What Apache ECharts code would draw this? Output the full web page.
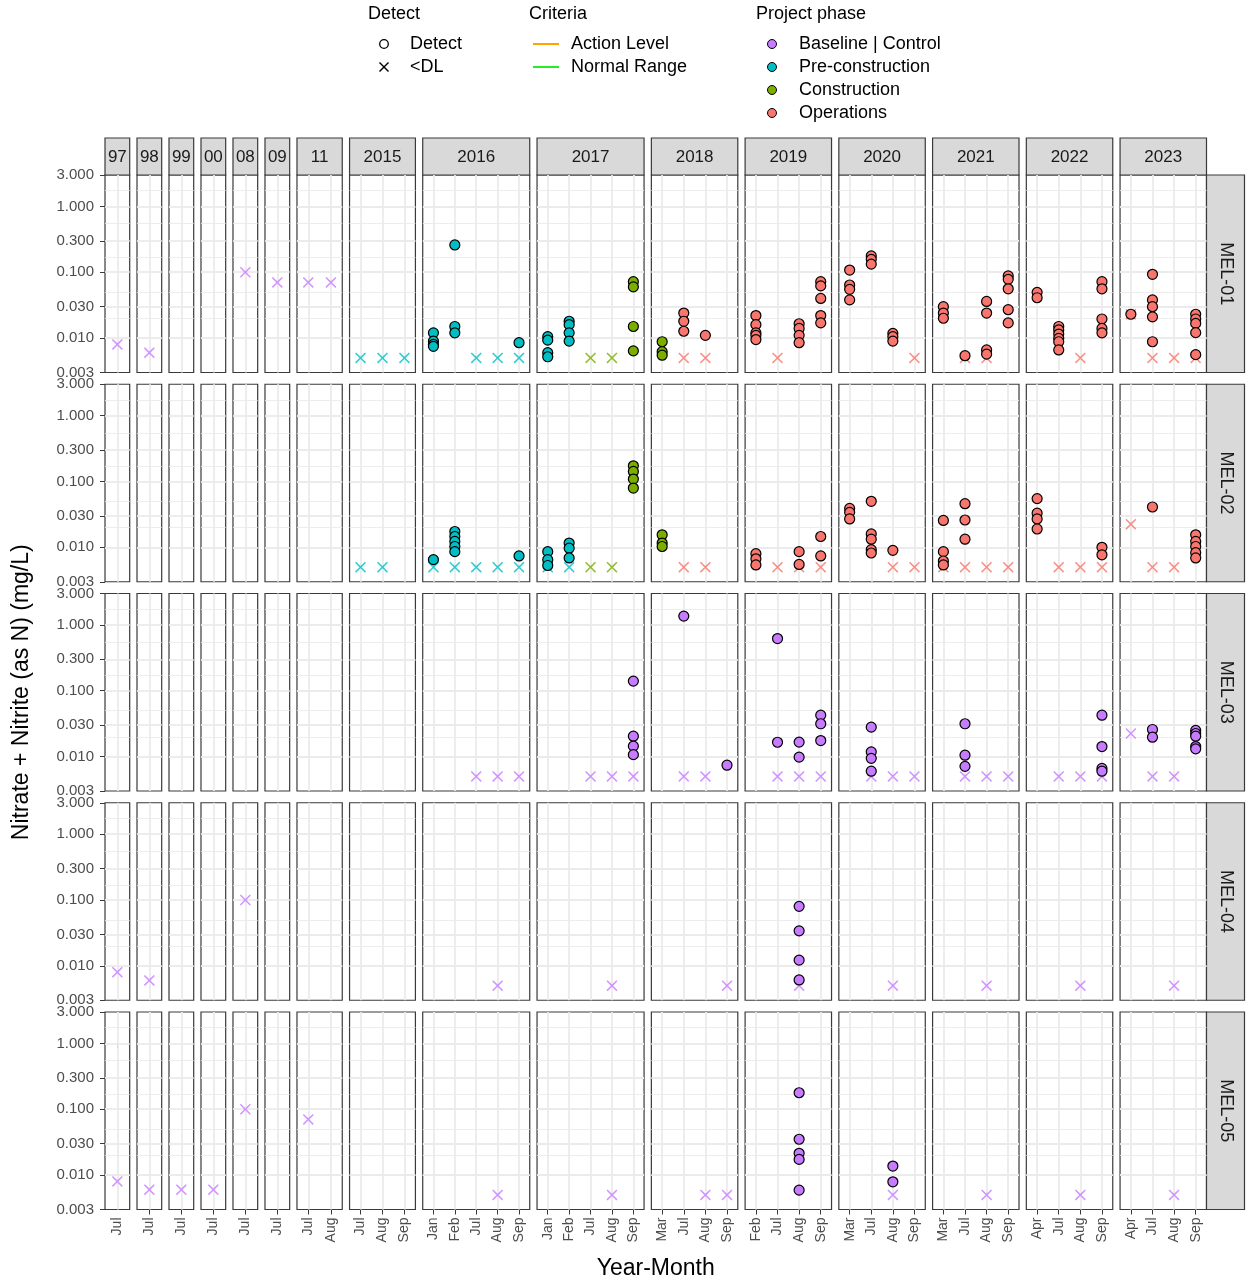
<!DOCTYPE html>
<html>
<head>
<meta charset="utf-8">
<script src="https://cdn.jsdelivr.net/npm/echarts@6/dist/echarts.min.js"></script>
<style>
  html, body { margin: 0; padding: 0; background: #ffffff; }
  #chart { width: 1248px; height: 1285px; }
</style>
</head>
<body>
<div id="chart"></div>
<script>
// ---- Data ---------------------------------------------------------------
const siteNames = ['MEL-01', 'MEL-02', 'MEL-03', 'MEL-04', 'MEL-05'];
const yearLabels = ['97', '98', '99', '00', '08', '09', '11', '2015', '2016', '2017', '2018', '2019', '2020', '2021', '2022', '2023'];
const yearMonths = [
  ['Jul'], ['Jul'], ['Jul'], ['Jul'], ['Jul'], ['Jul'], ['Jul', 'Aug'], ['Jul', 'Aug', 'Sep'],
  ['Jan', 'Feb', 'Jul', 'Aug', 'Sep'], ['Jan', 'Feb', 'Jul', 'Aug', 'Sep'],
  ['Mar', 'Jul', 'Aug', 'Sep'], ['Feb', 'Jul', 'Aug', 'Sep'], ['Mar', 'Jul', 'Aug', 'Sep'],
  ['Mar', 'Jul', 'Aug', 'Sep'], ['Apr', 'Jul', 'Aug', 'Sep'], ['Apr', 'Jul', 'Aug', 'Sep']
];
const yTickValues = [0.003, 0.01, 0.03, 0.1, 0.3, 1, 3];
const phaseNames = ['Baseline | Control', 'Pre-construction', 'Construction', 'Operations'];
const phaseCodes = ['B', 'P', 'C', 'O'];
const detectNames = ['Detect', '<DL'];
const criteriaNames = ['Action Level', 'Normal Range'];

// Samples: [year, month, phase, detect flag, value, value, ...]
const mel01 = [
  ['97', 'Jul', 'B', '<DL', 0.008],
  ['98', 'Jul', 'B', '<DL', 0.006],
  ['08', 'Jul', 'B', '<DL', 0.1],
  ['09', 'Jul', 'B', '<DL', 0.07],
  ['11', 'Jul', 'B', '<DL', 0.07],
  ['11', 'Aug', 'B', '<DL', 0.07],
  ['2015', 'Jul', 'P', '<DL', 0.005],
  ['2015', 'Aug', 'P', '<DL', 0.005],
  ['2015', 'Sep', 'P', '<DL', 0.005],
  ['2016', 'Jan', 'P', 'D', 0.012, 0.009, 0.008, 0.0075],
  ['2016', 'Feb', 'P', 'D', 0.26, 0.015, 0.012],
  ['2016', 'Jul', 'P', '<DL', 0.005],
  ['2016', 'Aug', 'P', '<DL', 0.005],
  ['2016', 'Sep', 'P', '<DL', 0.005],
  ['2016', 'Sep', 'P', 'D', 0.0085],
  ['2017', 'Jan', 'P', 'D', 0.0105, 0.0093, 0.006, 0.0052],
  ['2017', 'Feb', 'P', 'D', 0.018, 0.016, 0.012, 0.009],
  ['2017', 'Jul', 'C', '<DL', 0.005],
  ['2017', 'Aug', 'C', '<DL', 0.005],
  ['2017', 'Sep', 'C', 'D', 0.072, 0.06, 0.015, 0.0064],
  ['2018', 'Mar', 'C', 'D', 0.0088, 0.0062, 0.0055],
  ['2018', 'Jul', 'O', '<DL', 0.005],
  ['2018', 'Jul', 'O', 'D', 0.024, 0.018, 0.0127],
  ['2018', 'Aug', 'O', '<DL', 0.005],
  ['2018', 'Aug', 'O', 'D', 0.011],
  ['2019', 'Feb', 'O', 'D', 0.022, 0.016, 0.012, 0.011, 0.0095],
  ['2019', 'Jul', 'O', '<DL', 0.005],
  ['2019', 'Aug', 'O', 'D', 0.0165, 0.014, 0.011, 0.0085],
  ['2019', 'Sep', 'O', 'D', 0.072, 0.062, 0.04, 0.022, 0.017],
  ['2020', 'Mar', 'O', 'D', 0.108, 0.064, 0.055, 0.038],
  ['2020', 'Jul', 'O', 'D', 0.177, 0.157, 0.133],
  ['2020', 'Aug', 'O', 'D', 0.0118, 0.0105, 0.009],
  ['2020', 'Sep', 'O', '<DL', 0.005],
  ['2021', 'Mar', 'O', 'D', 0.03, 0.024, 0.02],
  ['2021', 'Jul', 'O', '<DL', 0.005],
  ['2021', 'Jul', 'O', 'D', 0.0054],
  ['2021', 'Aug', 'O', '<DL', 0.005],
  ['2021', 'Aug', 'O', 'D', 0.036, 0.024, 0.0066, 0.0057],
  ['2021', 'Sep', 'O', 'D', 0.088, 0.078, 0.056, 0.027, 0.017],
  ['2022', 'Apr', 'O', 'D', 0.0495, 0.041],
  ['2022', 'Jul', 'O', 'D', 0.015, 0.0133, 0.0115, 0.0099, 0.0088, 0.0066],
  ['2022', 'Aug', 'O', '<DL', 0.005],
  ['2022', 'Sep', 'O', 'D', 0.072, 0.056, 0.0195, 0.014, 0.012],
  ['2023', 'Apr', 'O', '<DL', 0.023],
  ['2023', 'Apr', 'O', 'D', 0.023],
  ['2023', 'Jul', 'O', '<DL', 0.005],
  ['2023', 'Jul', 'O', 'D', 0.093, 0.038, 0.03, 0.021, 0.0088],
  ['2023', 'Aug', 'O', '<DL', 0.005],
  ['2023', 'Sep', 'O', '<DL', 0.005],
  ['2023', 'Sep', 'O', 'D', 0.023, 0.0195, 0.0167, 0.0121, 0.0056]
];

const mel02 = [
  ['2015', 'Jul', 'P', '<DL', 0.005],
  ['2015', 'Aug', 'P', '<DL', 0.005],
  ['2016', 'Jan', 'P', '<DL', 0.005],
  ['2016', 'Jan', 'P', 'D', 0.0065],
  ['2016', 'Feb', 'P', '<DL', 0.005],
  ['2016', 'Feb', 'P', 'D', 0.0174, 0.0146, 0.0123, 0.0103, 0.0086],
  ['2016', 'Jul', 'P', '<DL', 0.005],
  ['2016', 'Aug', 'P', '<DL', 0.005],
  ['2016', 'Sep', 'P', '<DL', 0.005],
  ['2016', 'Sep', 'P', 'D', 0.0074],
  ['2017', 'Jan', 'P', '<DL', 0.005],
  ['2017', 'Jan', 'P', 'D', 0.0086, 0.0065, 0.0053],
  ['2017', 'Feb', 'P', '<DL', 0.005],
  ['2017', 'Feb', 'P', 'D', 0.0116, 0.0097, 0.0069],
  ['2017', 'Jul', 'C', '<DL', 0.005],
  ['2017', 'Aug', 'C', '<DL', 0.005],
  ['2017', 'Sep', 'C', 'D', 0.173, 0.142, 0.109, 0.0795],
  ['2018', 'Mar', 'C', 'D', 0.0155, 0.0116, 0.0103],
  ['2018', 'Jul', 'O', '<DL', 0.005],
  ['2018', 'Aug', 'O', '<DL', 0.005],
  ['2019', 'Feb', 'O', 'D', 0.008, 0.0067, 0.0054],
  ['2019', 'Jul', 'O', '<DL', 0.005],
  ['2019', 'Aug', 'O', '<DL', 0.005],
  ['2019', 'Aug', 'O', 'D', 0.0086, 0.0055],
  ['2019', 'Sep', 'O', '<DL', 0.005],
  ['2019', 'Sep', 'O', 'D', 0.0146, 0.0074],
  ['2020', 'Mar', 'O', 'D', 0.039, 0.034, 0.027],
  ['2020', 'Jul', 'O', 'D', 0.05, 0.016, 0.0133, 0.0092, 0.0082],
  ['2020', 'Aug', 'O', '<DL', 0.005],
  ['2020', 'Aug', 'O', 'D', 0.009],
  ['2020', 'Sep', 'O', '<DL', 0.005],
  ['2021', 'Mar', 'O', '<DL', 0.005],
  ['2021', 'Mar', 'O', 'D', 0.0256, 0.0086, 0.0062, 0.0054],
  ['2021', 'Jul', 'O', '<DL', 0.005],
  ['2021', 'Jul', 'O', 'D', 0.046, 0.026, 0.0133],
  ['2021', 'Aug', 'O', '<DL', 0.005],
  ['2021', 'Sep', 'O', '<DL', 0.005],
  ['2022', 'Apr', 'O', 'D', 0.055, 0.033, 0.027, 0.019],
  ['2022', 'Jul', 'O', '<DL', 0.005],
  ['2022', 'Aug', 'O', '<DL', 0.005],
  ['2022', 'Sep', 'O', '<DL', 0.005],
  ['2022', 'Sep', 'O', 'D', 0.01, 0.0077],
  ['2023', 'Apr', 'O', '<DL', 0.0225],
  ['2023', 'Jul', 'O', '<DL', 0.005],
  ['2023', 'Jul', 'O', 'D', 0.041],
  ['2023', 'Aug', 'O', '<DL', 0.005],
  ['2023', 'Sep', 'O', 'D', 0.0155, 0.0123, 0.0103, 0.0083, 0.0069]
];

const mel03 = [
  ['2016', 'Jul', 'B', '<DL', 0.005],
  ['2016', 'Aug', 'B', '<DL', 0.005],
  ['2016', 'Sep', 'B', '<DL', 0.005],
  ['2017', 'Jul', 'B', '<DL', 0.005],
  ['2017', 'Aug', 'B', '<DL', 0.005],
  ['2017', 'Sep', 'B', '<DL', 0.005],
  ['2017', 'Sep', 'B', 'D', 0.14, 0.0204, 0.0144, 0.0107],
  ['2018', 'Jul', 'B', '<DL', 0.005],
  ['2018', 'Jul', 'B', 'D', 1.36],
  ['2018', 'Aug', 'B', '<DL', 0.005],
  ['2018', 'Sep', 'B', 'D', 0.0074],
  ['2019', 'Jul', 'B', '<DL', 0.005],
  ['2019', 'Jul', 'B', 'D', 0.62, 0.0165],
  ['2019', 'Aug', 'B', '<DL', 0.005],
  ['2019', 'Aug', 'B', 'D', 0.0166, 0.0098],
  ['2019', 'Sep', 'B', '<DL', 0.005],
  ['2019', 'Sep', 'B', 'D', 0.0425, 0.0315, 0.0175],
  ['2020', 'Jul', 'B', '<DL', 0.005],
  ['2020', 'Jul', 'B', 'D', 0.028, 0.0118, 0.0094, 0.006],
  ['2020', 'Aug', 'B', '<DL', 0.005],
  ['2020', 'Sep', 'B', '<DL', 0.005],
  ['2021', 'Jul', 'B', '<DL', 0.005],
  ['2021', 'Jul', 'B', 'D', 0.0315, 0.0105, 0.0071],
  ['2021', 'Aug', 'B', '<DL', 0.005],
  ['2021', 'Sep', 'B', '<DL', 0.005],
  ['2022', 'Jul', 'B', '<DL', 0.005],
  ['2022', 'Aug', 'B', '<DL', 0.005],
  ['2022', 'Sep', 'B', '<DL', 0.005],
  ['2022', 'Sep', 'B', 'D', 0.0425, 0.0142, 0.0066, 0.006],
  ['2023', 'Apr', 'B', '<DL', 0.0224],
  ['2023', 'Jul', 'B', '<DL', 0.005],
  ['2023', 'Jul', 'B', 'D', 0.0258, 0.0197],
  ['2023', 'Aug', 'B', '<DL', 0.005],
  ['2023', 'Sep', 'B', 'D', 0.025, 0.0224, 0.0204, 0.0142, 0.0131]
];

const mel04 = [
  ['97', 'Jul', 'B', '<DL', 0.008],
  ['98', 'Jul', 'B', '<DL', 0.006],
  ['08', 'Jul', 'B', '<DL', 0.1],
  ['2016', 'Aug', 'B', '<DL', 0.005],
  ['2017', 'Aug', 'B', '<DL', 0.005],
  ['2018', 'Sep', 'B', '<DL', 0.005],
  ['2019', 'Aug', 'B', '<DL', 0.005],
  ['2019', 'Aug', 'B', 'D', 0.08, 0.034, 0.0122, 0.0061],
  ['2020', 'Aug', 'B', '<DL', 0.005],
  ['2021', 'Aug', 'B', '<DL', 0.005],
  ['2022', 'Aug', 'B', '<DL', 0.005],
  ['2023', 'Aug', 'B', '<DL', 0.005]
];

const mel05 = [
  ['97', 'Jul', 'B', '<DL', 0.008],
  ['98', 'Jul', 'B', '<DL', 0.006],
  ['99', 'Jul', 'B', '<DL', 0.006],
  ['00', 'Jul', 'B', '<DL', 0.006],
  ['08', 'Jul', 'B', '<DL', 0.1],
  ['11', 'Jul', 'B', '<DL', 0.07],
  ['2016', 'Aug', 'B', '<DL', 0.005],
  ['2017', 'Aug', 'B', '<DL', 0.005],
  ['2018', 'Aug', 'B', '<DL', 0.005],
  ['2018', 'Sep', 'B', '<DL', 0.005],
  ['2019', 'Aug', 'B', 'D', 0.178, 0.035, 0.0214, 0.0173, 0.0059],
  ['2020', 'Aug', 'B', '<DL', 0.005],
  ['2020', 'Aug', 'B', 'D', 0.0137, 0.0079],
  ['2021', 'Aug', 'B', '<DL', 0.005],
  ['2022', 'Aug', 'B', '<DL', 0.005],
  ['2023', 'Aug', 'B', '<DL', 0.005]
];

const siteSamples = [mel01, mel02, mel03, mel04, mel05];

// ---- Styling -------------------------------------------------------------
const FONT = '"Liberation Sans", Arial, Helvetica, sans-serif';
const phaseColors = { B: '#C77CFF', P: '#00BFC4', C: '#7CAE00', O: '#F8766D' };
const criteriaColors = ['#FFA500', '#22EE22'];
const gridColor = '#EBEBEB';
const frameColor = '#3A3A3A';
const crossPath = 'path://M2,0L10,8L18,0L20,2L12,10L20,18L18,20L10,12L2,20L0,18L8,10L0,2Z';

// ---- Facet layout ---------------------------------------------------------
const plotLeft = 105, plotRight = 1206.5, colGap = 7.3;
const rowTop0 = 175, rowStep = 209.25, rowHeight = 197.5;
const stripTop = 138, stripRightWidth = 38;
const totalUnits = yearMonths.reduce((s, m) => s + m.length + 0.2, 0);
const unit = (plotRight - plotLeft - colGap * (yearLabels.length - 1)) / totalUnits;
const colLeft = [], colWidth = [];
{
  let x = plotLeft;
  yearMonths.forEach(m => {
    const w = (m.length + 0.2) * unit;
    colLeft.push(x); colWidth.push(w);
    x += w + colGap;
  });
}

// Minor grid values sit halfway between major breaks on the log scale
const minorValues = [];
for (let i = 0; i < yTickValues.length - 1; i++) {
  minorValues.push(Math.sqrt(yTickValues[i] * yTickValues[i + 1]));
}

const grids = [], xAxes = [], yAxes = [], series = [];

siteNames.forEach((site, r) => {
  const samples = siteSamples[r];
  yearLabels.forEach((yr, c) => {
    const g = grids.length;
    const months = yearMonths[c];
    const isBottom = r === siteNames.length - 1;
    grids.push({
      left: colLeft[c], top: rowTop0 + r * rowStep,
      width: colWidth[c], height: rowHeight,
      show: true, backgroundColor: '#ffffff',
      borderColor: frameColor, borderWidth: 1.2
    });
    xAxes.push({
      type: 'category', gridIndex: g, data: months, boundaryGap: true,
      axisLine: { show: false },
      splitLine: { show: false },
      axisTick: { show: isBottom, alignWithLabel: true, length: 5, lineStyle: { color: frameColor, width: 1 } },
      axisLabel: {
        show: isBottom, interval: 0, rotate: 90, margin: 8,
        fontSize: 14, color: '#4D4D4D', fontFamily: FONT
      }
    });
    const yLog = yAxes.length;
    yAxes.push({
      type: 'log', logBase: 10, gridIndex: g, min: 0.003, max: 3, show: false, position: 'left'
    });
    if (c === 0) {
      // Tick labels for the facet row, placed on a log10 value axis
      const logTicks = yTickValues.map(v => Math.log10(v));
      yAxes.push({
        type: 'value', gridIndex: g, position: 'left', offset: 0,
        min: Math.log10(yTickValues[0]), max: Math.log10(yTickValues[yTickValues.length - 1]),
        axisLine: { show: false },
        splitLine: { show: false },
        axisTick: { show: true, inside: false, customValues: logTicks, length: 5, lineStyle: { color: frameColor, width: 1 } },
        axisLabel: {
          show: true, inside: false, customValues: logTicks, margin: 11,
          fontSize: 15, color: '#4D4D4D', fontFamily: FONT,
          formatter: v => Math.pow(10, v).toFixed(3)
        }
      });
    }

    // panel grid lines
    const lines = [];
    months.forEach(m => lines.push({ xAxis: m, lineStyle: { color: gridColor, width: 1.8, type: 'solid' } }));
    yTickValues.slice(1, -1).forEach(v => lines.push({ yAxis: v, lineStyle: { color: gridColor, width: 1.8, type: 'solid' } }));
    minorValues.forEach(v => lines.push({ yAxis: v, lineStyle: { color: gridColor, width: 0.9, type: 'solid' } }));
    series.push({
      type: 'scatter', xAxisIndex: g, yAxisIndex: yLog, data: [], silent: true, z: 1,
      markLine: {
        z: 1, silent: true, symbol: ['none', 'none'], label: { show: false },
        emphasis: { disabled: true }, animation: false, data: lines
      }
    });

    const below = [], detected = [];
    samples.filter(s => s[0] === yr).forEach(s => {
      const [, month, phase, flag, ...values] = s;
      values.forEach(v => {
        const item = { value: [month, v], itemStyle: { color: phaseColors[phase] } };
        (flag === 'D' ? detected : below).push(item);
      });
    });
    series.push({
      type: 'scatter', xAxisIndex: g, yAxisIndex: yLog, z: 10,
      symbol: crossPath, symbolSize: 11, silent: true,
      data: below
    });
    series.push({
      type: 'scatter', xAxisIndex: g, yAxisIndex: yLog, z: 11,
      symbol: 'circle', symbolSize: 10, silent: true,
      itemStyle: { borderColor: '#000000', borderWidth: 1.2, opacity: 1 },
      data: detected
    });
  });
});

// ---- Strips, titles and legend --------------------------------------------
const graphics = [];
yearLabels.forEach((yr, c) => {
  graphics.push({
    type: 'rect', silent: true,
    shape: { x: colLeft[c], y: stripTop, width: colWidth[c], height: rowTop0 - stripTop },
    style: { fill: '#D9D9D9', stroke: frameColor, lineWidth: 1.2 }
  });
  graphics.push({
    type: 'text', silent: true,
    x: colLeft[c] + colWidth[c] / 2, y: (stripTop + rowTop0) / 2 + 1,
    style: { text: yr, font: '17px ' + FONT, fill: '#1A1A1A', align: 'center', verticalAlign: 'middle' }
  });
});
siteNames.forEach((site, r) => {
  const top = rowTop0 + r * rowStep;
  graphics.push({
    type: 'rect', silent: true,
    shape: { x: plotRight, y: top, width: stripRightWidth, height: rowHeight },
    style: { fill: '#D9D9D9', stroke: frameColor, lineWidth: 1.2 }
  });
  graphics.push({
    type: 'text', silent: true,
    x: plotRight + stripRightWidth / 2, y: top + rowHeight / 2, rotation: -Math.PI / 2,
    style: { text: site, font: '18px ' + FONT, fill: '#1A1A1A', align: 'center', verticalAlign: 'middle' }
  });
});

// axis titles
graphics.push({
  type: 'text', silent: true, x: 22, y: rowTop0 + (4 * rowStep + rowHeight) / 2, rotation: Math.PI / 2,
  style: { text: 'Nitrate + Nitrite (as N) (mg/L)', font: '23px ' + FONT, fill: '#000000', align: 'center', verticalAlign: 'middle' }
});
graphics.push({
  type: 'text', silent: true, x: (plotLeft + plotRight) / 2, y: 1269,
  style: { text: 'Year-Month', font: '23px ' + FONT, fill: '#000000', align: 'center', verticalAlign: 'middle' }
});

// legend
const legendFont = '18px ' + FONT;
const legendRowY = [44, 67, 90, 113];
function legendTitle(text, x) {
  graphics.push({ type: 'text', silent: true, x: x, y: 14,
    style: { text: text, font: legendFont, fill: '#000000', align: 'left', verticalAlign: 'middle' } });
}
function legendLabel(text, x, y) {
  graphics.push({ type: 'text', silent: true, x: x, y: y,
    style: { text: text, font: legendFont, fill: '#000000', align: 'left', verticalAlign: 'middle' } });
}
legendTitle('Detect', 368);
graphics.push({ type: 'circle', silent: true, shape: { cx: 384, cy: legendRowY[0], r: 4.3 },
  style: { fill: 'none', stroke: '#000000', lineWidth: 1.3 } });
graphics.push({ type: 'polyline', silent: true, shape: { points: [[379.5, 62.5], [388.5, 71.5]] },
  style: { stroke: '#000000', lineWidth: 1.4 } });
graphics.push({ type: 'polyline', silent: true, shape: { points: [[388.5, 62.5], [379.5, 71.5]] },
  style: { stroke: '#000000', lineWidth: 1.4 } });
detectNames.forEach((n, i) => legendLabel(n, 410, legendRowY[i]));

legendTitle('Criteria', 529);
criteriaNames.forEach((n, i) => {
  graphics.push({ type: 'line', silent: true,
    shape: { x1: 533, y1: legendRowY[i], x2: 559, y2: legendRowY[i] },
    style: { stroke: criteriaColors[i], lineWidth: 2 } });
  legendLabel(n, 571, legendRowY[i]);
});

legendTitle('Project phase', 756);
phaseNames.forEach((n, i) => {
  graphics.push({ type: 'circle', silent: true, shape: { cx: 772, cy: legendRowY[i], r: 4.5 },
    style: { fill: phaseColors[phaseCodes[i]], stroke: '#000000', lineWidth: 1 } });
  legendLabel(n, 799, legendRowY[i]);
});

const chart = echarts.init(document.getElementById('chart'), null, { renderer: 'canvas' });
chart.setOption({
  backgroundColor: '#ffffff',
  animation: false,
  grid: grids,
  xAxis: xAxes,
  yAxis: yAxes,
  series: series,
  graphic: { elements: graphics }
});
</script>
</body>
</html>
